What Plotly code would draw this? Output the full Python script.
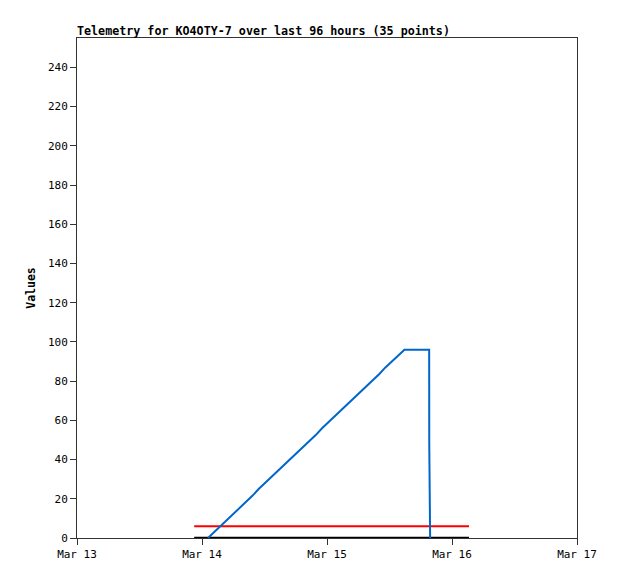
import plotly.graph_objects as go

# Blue telemetry series (35 points)
times = [
    "2024-03-14 01:09", "2024-03-14 02:22", "2024-03-14 03:35", "2024-03-14 04:48",
    "2024-03-14 06:01", "2024-03-14 07:14", "2024-03-14 08:27", "2024-03-14 09:40",
    "2024-03-14 10:53", "2024-03-14 12:06", "2024-03-14 13:19", "2024-03-14 14:32",
    "2024-03-14 15:45", "2024-03-14 16:58", "2024-03-14 18:11", "2024-03-14 19:24",
    "2024-03-14 20:37", "2024-03-14 21:50", "2024-03-14 23:03", "2024-03-15 00:16",
    "2024-03-15 01:29", "2024-03-15 02:42", "2024-03-15 03:55", "2024-03-15 05:08",
    "2024-03-15 06:21", "2024-03-15 07:34", "2024-03-15 08:47", "2024-03-15 10:00",
    "2024-03-15 11:13", "2024-03-15 12:26", "2024-03-15 13:39", "2024-03-15 14:52",
    "2024-03-15 19:37", "2024-03-15 19:38", "2024-03-15 19:48",
]
values = [
    0, 3, 6, 9, 12, 15.5, 18.5, 21.5, 25, 28, 31, 34, 37, 40, 43, 46.5,
    49.5, 52.5, 56, 59, 62, 65, 68, 71, 74, 77.5, 80.5, 83.5, 87, 90, 93, 96,
    96, 48, 0,
]

# Reference lines
ref_times = ["2024-03-13 22:30", "2024-03-16 03:16"]
red_values = [6, 6]
black_values = [0, 0]

x_ticks = ["2024-03-13", "2024-03-14", "2024-03-15", "2024-03-16", "2024-03-17"]
x_labels = ["Mar 13", "Mar 14", "Mar 15", "Mar 16", "Mar 17"]
y_ticks = [0, 20, 40, 60, 80, 100, 120, 140, 160, 180, 200, 220, 240]

font_family = "DejaVu Sans Mono, Liberation Mono, monospace"

W, H = 610, 571  # page body has an 8px margin

fig = go.Figure()
fig.add_trace(go.Scatter(x=ref_times, y=black_values, mode="lines",
                         line=dict(color="#000000", width=2.5), showlegend=False))
fig.add_trace(go.Scatter(x=ref_times, y=red_values, mode="lines",
                         line=dict(color="#ff0000", width=2), showlegend=False))
fig.add_trace(go.Scatter(x=times, y=values, mode="lines",
                         line=dict(color="#0066cc", width=2), showlegend=False))

fig.update_layout(
    width=W, height=H,
    paper_bgcolor="white", plot_bgcolor="white",
    margin=dict(l=69, r=41, t=30, b=41),
    font=dict(family=font_family, size=11, color="black"),
    title=dict(text="<b>Telemetry for KO4OTY-7 over last 96 hours (35 points)</b>",
               x=69/W, xanchor="left", xref="container",
               y=1 - 23/H, yanchor="middle", yref="container",
               font=dict(family=font_family, size=11.7, color="black")),
)
fig.update_xaxes(
    type="date", range=["2024-03-13", "2024-03-17"],
    tickvals=x_ticks, ticktext=x_labels,
    showgrid=False, zeroline=False,
    showline=True, linecolor="#333333", linewidth=1, mirror=True,
    ticks="outside", ticklen=6, tickcolor="#333333",
    tickfont=dict(family=font_family, size=11),
)
fig.update_yaxes(
    range=[0, 255], tickvals=y_ticks,
    showgrid=False, zeroline=False,
    showline=True, linecolor="#333333", linewidth=1, mirror=True,
    ticks="outside", ticklen=6, tickcolor="#333333",
    tickfont=dict(family=font_family, size=11),
    title=dict(text="<b>Values</b>", font=dict(family=font_family, size=11.5), standoff=9),
)

fig.write_html("out.html")
